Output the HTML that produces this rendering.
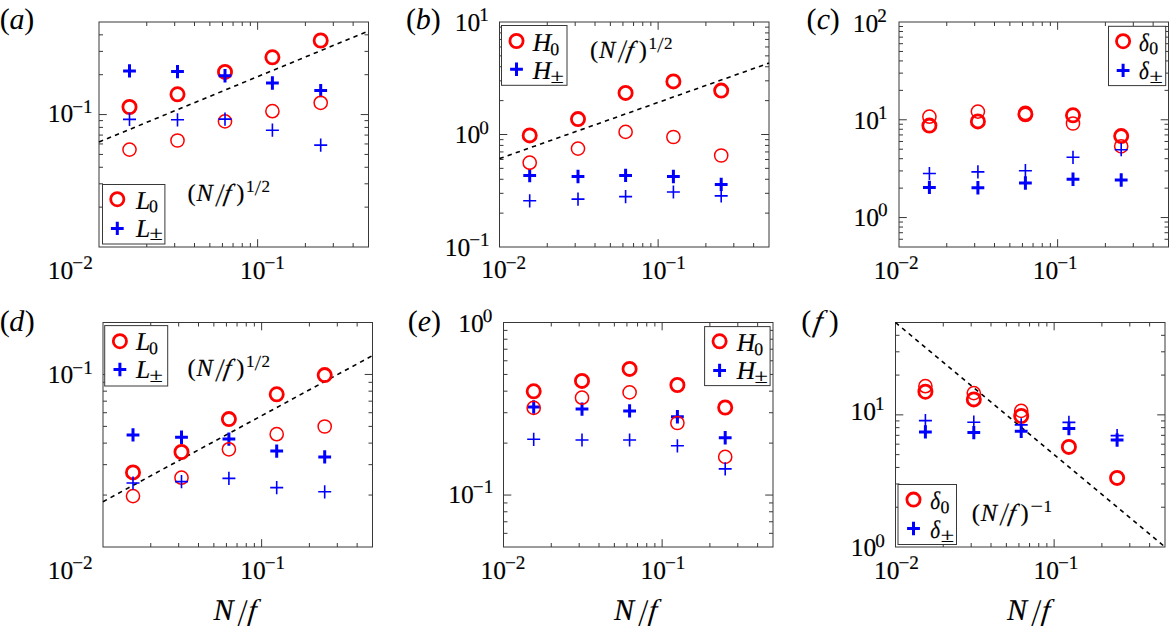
<!DOCTYPE html>
<html><head><meta charset="utf-8"><title>Figure</title>
<style>
html,body{margin:0;padding:0;background:#fff;}
svg{display:block;}
text{font-family:"Liberation Serif",serif;fill:#000;stroke:#000;stroke-width:0.18px;text-rendering:geometricPrecision;}
.nb{stroke-width:0;}
</style></head>
<body>
<svg width="1169" height="626" viewBox="0 0 1169 626">
<rect width="1169" height="626" fill="#fff"/>
<path d="M146.75 247V243M146.75 22V26M174.68 247V243M174.68 22V26M194.5 247V243M194.5 22V26M209.87 247V243M209.87 22V26M222.43 247V243M222.43 22V26M233.05 247V243M233.05 22V26M242.25 247V243M242.25 22V26M250.37 247V243M250.37 22V26M257.63 247V239.2M257.63 22V29.8M305.38 247V243M305.38 22V26M333.31 247V243M333.31 22V26M353.13 247V243M353.13 22V26M99 207.13H103M368.5 207.13H364.5M99 183.81H103M368.5 183.81H364.5M99 167.27H103M368.5 167.27H364.5M99 154.43H103M368.5 154.43H364.5M99 143.95H103M368.5 143.95H364.5M99 135.08H103M368.5 135.08H364.5M99 127.4H103M368.5 127.4H364.5M99 120.63H103M368.5 120.63H364.5M99 114.57H106.8M368.5 114.57H360.7M99 74.7H103M368.5 74.7H364.5M99 51.38H103M368.5 51.38H364.5M99 34.83H103M368.5 34.83H364.5" stroke="#383838" stroke-width="1" fill="none"/>
<rect x="99" y="22" width="269.5" height="225" stroke="#383838" stroke-width="1.0" fill="none"/>
<path d="M547.25 247V243M547.25 22V26M575.18 247V243M575.18 22V26M595 247V243M595 22V26M610.37 247V243M610.37 22V26M622.93 247V243M622.93 22V26M633.55 247V243M633.55 22V26M642.75 247V243M642.75 22V26M650.87 247V243M650.87 22V26M658.13 247V239.2M658.13 22V29.8M705.88 247V243M705.88 22V26M733.81 247V243M733.81 22V26M753.63 247V243M753.63 22V26M499.5 213.13H503.5M769 213.13H765M499.5 193.32H503.5M769 193.32H765M499.5 179.27H503.5M769 179.27H765M499.5 168.37H503.5M769 168.37H765M499.5 159.46H503.5M769 159.46H765M499.5 151.93H503.5M769 151.93H765M499.5 145.4H503.5M769 145.4H765M499.5 139.65H503.5M769 139.65H765M499.5 134.5H507.3M769 134.5H761.2M499.5 100.63H503.5M769 100.63H765M499.5 80.82H503.5M769 80.82H765M499.5 66.77H503.5M769 66.77H765M499.5 55.87H503.5M769 55.87H765M499.5 46.96H503.5M769 46.96H765M499.5 39.43H503.5M769 39.43H765M499.5 32.9H503.5M769 32.9H765M499.5 27.15H503.5M769 27.15H765" stroke="#383838" stroke-width="1" fill="none"/>
<rect x="499.5" y="22" width="269.5" height="225" stroke="#383838" stroke-width="1.0" fill="none"/>
<path d="M946.75 247V243M946.75 22V26M974.68 247V243M974.68 22V26M994.5 247V243M994.5 22V26M1009.87 247V243M1009.87 22V26M1022.43 247V243M1022.43 22V26M1033.05 247V243M1033.05 22V26M1042.25 247V243M1042.25 22V26M1050.37 247V243M1050.37 22V26M1057.63 247V239.2M1057.63 22V29.8M1105.38 247V243M1105.38 22V26M1133.31 247V243M1133.31 22V26M1153.13 247V243M1153.13 22V26M899 239.26H903M1168.5 239.26H1164.5M899 232.71H903M1168.5 232.71H1164.5M899 227.04H903M1168.5 227.04H1164.5M899 222.04H903M1168.5 222.04H1164.5M899 217.56H906.8M1168.5 217.56H1160.7M899 188.13H903M1168.5 188.13H1164.5M899 170.91H903M1168.5 170.91H1164.5M899 158.69H903M1168.5 158.69H1164.5M899 149.22H903M1168.5 149.22H1164.5M899 141.48H903M1168.5 141.48H1164.5M899 134.93H903M1168.5 134.93H1164.5M899 129.26H903M1168.5 129.26H1164.5M899 124.26H903M1168.5 124.26H1164.5M899 119.78H906.8M1168.5 119.78H1160.7M899 90.35H903M1168.5 90.35H1164.5M899 73.13H903M1168.5 73.13H1164.5M899 60.91H903M1168.5 60.91H1164.5M899 51.44H903M1168.5 51.44H1164.5M899 43.69H903M1168.5 43.69H1164.5M899 37.15H903M1168.5 37.15H1164.5M899 31.48H903M1168.5 31.48H1164.5M899 26.47H903M1168.5 26.47H1164.5" stroke="#383838" stroke-width="1" fill="none"/>
<rect x="899" y="22" width="269.5" height="225" stroke="#383838" stroke-width="1.0" fill="none"/>
<path d="M150.75 547V543M150.75 322.5V326.5M178.68 547V543M178.68 322.5V326.5M198.5 547V543M198.5 322.5V326.5M213.87 547V543M213.87 322.5V326.5M226.43 547V543M226.43 322.5V326.5M237.05 547V543M237.05 322.5V326.5M246.25 547V543M246.25 322.5V326.5M254.37 547V543M254.37 322.5V326.5M261.63 547V539.2M261.63 322.5V330.3M309.38 547V543M309.38 322.5V326.5M337.31 547V543M337.31 322.5V326.5M357.13 547V543M357.13 322.5V326.5M103 495.06H107M372.5 495.06H368.5M103 464.67H107M372.5 464.67H368.5M103 443.11H107M372.5 443.11H368.5M103 426.39H107M372.5 426.39H368.5M103 412.73H107M372.5 412.73H368.5M103 401.17H107M372.5 401.17H368.5M103 391.17H107M372.5 391.17H368.5M103 382.34H107M372.5 382.34H368.5M103 374.44H110.8M372.5 374.44H364.7" stroke="#383838" stroke-width="1" fill="none"/>
<rect x="103" y="322.5" width="269.5" height="224.5" stroke="#383838" stroke-width="1.0" fill="none"/>
<path d="M551.25 547V543M551.25 322.5V326.5M579.18 547V543M579.18 322.5V326.5M599 547V543M599 322.5V326.5M614.37 547V543M614.37 322.5V326.5M626.93 547V543M626.93 322.5V326.5M637.55 547V543M637.55 322.5V326.5M646.75 547V543M646.75 322.5V326.5M654.87 547V543M654.87 322.5V326.5M662.13 547V539.2M662.13 322.5V330.3M709.88 547V543M709.88 322.5V326.5M737.81 547V543M737.81 322.5V326.5M757.63 547V543M757.63 322.5V326.5M503.5 533.34H507.5M773 533.34H769M503.5 521.78H507.5M773 521.78H769M503.5 511.78H507.5M773 511.78H769M503.5 502.95H507.5M773 502.95H769M503.5 495.06H511.3M773 495.06H765.2M503.5 443.11H507.5M773 443.11H769M503.5 412.73H507.5M773 412.73H769M503.5 391.17H507.5M773 391.17H769M503.5 374.44H507.5M773 374.44H769M503.5 360.78H507.5M773 360.78H769M503.5 349.23H507.5M773 349.23H769M503.5 339.22H507.5M773 339.22H769M503.5 330.4H507.5M773 330.4H769" stroke="#383838" stroke-width="1" fill="none"/>
<rect x="503.5" y="322.5" width="269.5" height="224.5" stroke="#383838" stroke-width="1.0" fill="none"/>
<path d="M943.25 547V543M943.25 322.5V326.5M971.18 547V543M971.18 322.5V326.5M991 547V543M991 322.5V326.5M1006.37 547V543M1006.37 322.5V326.5M1018.93 547V543M1018.93 322.5V326.5M1029.55 547V543M1029.55 322.5V326.5M1038.75 547V543M1038.75 322.5V326.5M1046.87 547V543M1046.87 322.5V326.5M1054.13 547V539.2M1054.13 322.5V330.3M1101.88 547V543M1101.88 322.5V326.5M1129.81 547V543M1129.81 322.5V326.5M1149.63 547V543M1149.63 322.5V326.5M895.5 507.22H899.5M1165 507.22H1161M895.5 483.95H899.5M1165 483.95H1161M895.5 467.44H899.5M1165 467.44H1161M895.5 454.64H899.5M1165 454.64H1161M895.5 444.18H899.5M1165 444.18H1161M895.5 435.33H899.5M1165 435.33H1161M895.5 427.67H899.5M1165 427.67H1161M895.5 420.91H899.5M1165 420.91H1161M895.5 414.86H903.3M1165 414.86H1157.2M895.5 375.08H899.5M1165 375.08H1161M895.5 351.81H899.5M1165 351.81H1161M895.5 335.31H899.5M1165 335.31H1161" stroke="#383838" stroke-width="1" fill="none"/>
<rect x="895.5" y="322.5" width="269.5" height="224.5" stroke="#383838" stroke-width="1.0" fill="none"/>
<line x1="99" y1="142" x2="368.5" y2="31" stroke="#000" stroke-width="1.6" stroke-dasharray="4.4 4.2"/>
<line x1="499.5" y1="158.6" x2="769" y2="63.1" stroke="#000" stroke-width="1.6" stroke-dasharray="4.4 4.2"/>
<line x1="103" y1="501.7" x2="372.5" y2="355.6" stroke="#000" stroke-width="1.6" stroke-dasharray="4.4 4.2"/>
<line x1="895.5" y1="322.5" x2="1165" y2="547" stroke="#000" stroke-width="1.6" stroke-dasharray="4.4 4.2"/>
<circle cx="129.5" cy="107" r="6.6" stroke="#f00" stroke-width="2.8" fill="none"/>
<circle cx="177.5" cy="94.3" r="6.6" stroke="#f00" stroke-width="2.8" fill="none"/>
<circle cx="225" cy="71.9" r="6.6" stroke="#f00" stroke-width="2.8" fill="none"/>
<circle cx="272.4" cy="57.3" r="6.6" stroke="#f00" stroke-width="2.8" fill="none"/>
<circle cx="320.7" cy="40.5" r="6.6" stroke="#f00" stroke-width="2.8" fill="none"/>
<path d="M123.1 70.9H135.9M129.5 64.2V77.6" stroke="#00f" stroke-width="3" fill="none"/>
<path d="M171.1 71.6H183.9M177.5 64.9V78.3" stroke="#00f" stroke-width="3" fill="none"/>
<path d="M218.6 75.8H231.4M225 69.1V82.5" stroke="#00f" stroke-width="3" fill="none"/>
<path d="M266 83H278.8M272.4 76.3V89.7" stroke="#00f" stroke-width="3" fill="none"/>
<path d="M314.3 90.6H327.1M320.7 83.9V97.3" stroke="#00f" stroke-width="3" fill="none"/>
<circle cx="129.5" cy="149.6" r="6.6" stroke="#f00" stroke-width="1.5" fill="none"/>
<circle cx="177.5" cy="140.5" r="6.6" stroke="#f00" stroke-width="1.5" fill="none"/>
<circle cx="225" cy="121.4" r="6.6" stroke="#f00" stroke-width="1.5" fill="none"/>
<circle cx="272.4" cy="111.2" r="6.6" stroke="#f00" stroke-width="1.5" fill="none"/>
<circle cx="320.7" cy="102.8" r="6.6" stroke="#f00" stroke-width="1.5" fill="none"/>
<path d="M123 119.4H136M129.5 112.8V126" stroke="#00f" stroke-width="1.6" fill="none"/>
<path d="M171 119.8H184M177.5 113.2V126.4" stroke="#00f" stroke-width="1.6" fill="none"/>
<path d="M218.5 119.1H231.5M225 112.5V125.7" stroke="#00f" stroke-width="1.6" fill="none"/>
<path d="M265.9 130.2H278.9M272.4 123.6V136.8" stroke="#00f" stroke-width="1.6" fill="none"/>
<path d="M314.2 145.1H327.2M320.7 138.5V151.7" stroke="#00f" stroke-width="1.6" fill="none"/>
<circle cx="529.7" cy="135.4" r="6.6" stroke="#f00" stroke-width="2.8" fill="none"/>
<circle cx="578" cy="119.1" r="6.6" stroke="#f00" stroke-width="2.8" fill="none"/>
<circle cx="625.6" cy="92.9" r="6.6" stroke="#f00" stroke-width="2.8" fill="none"/>
<circle cx="673.4" cy="81.4" r="6.6" stroke="#f00" stroke-width="2.8" fill="none"/>
<circle cx="721.2" cy="90.6" r="6.6" stroke="#f00" stroke-width="2.8" fill="none"/>
<path d="M523.3 175.6H536.1M529.7 168.9V182.3" stroke="#00f" stroke-width="3" fill="none"/>
<path d="M571.6 176.5H584.4M578 169.8V183.2" stroke="#00f" stroke-width="3" fill="none"/>
<path d="M619.2 175.4H632M625.6 168.7V182.1" stroke="#00f" stroke-width="3" fill="none"/>
<path d="M667 176.5H679.8M673.4 169.8V183.2" stroke="#00f" stroke-width="3" fill="none"/>
<path d="M714.8 184.4H727.6M721.2 177.7V191.1" stroke="#00f" stroke-width="3" fill="none"/>
<circle cx="529.7" cy="162.7" r="6.6" stroke="#f00" stroke-width="1.5" fill="none"/>
<circle cx="578" cy="148.6" r="6.6" stroke="#f00" stroke-width="1.5" fill="none"/>
<circle cx="625.6" cy="131.9" r="6.6" stroke="#f00" stroke-width="1.5" fill="none"/>
<circle cx="673.4" cy="137" r="6.6" stroke="#f00" stroke-width="1.5" fill="none"/>
<circle cx="721.2" cy="155.5" r="6.6" stroke="#f00" stroke-width="1.5" fill="none"/>
<path d="M523.2 200.8H536.2M529.7 194.2V207.4" stroke="#00f" stroke-width="1.6" fill="none"/>
<path d="M571.5 199.1H584.5M578 192.5V205.7" stroke="#00f" stroke-width="1.6" fill="none"/>
<path d="M619.1 196.6H632.1M625.6 190V203.2" stroke="#00f" stroke-width="1.6" fill="none"/>
<path d="M666.9 192H679.9M673.4 185.4V198.6" stroke="#00f" stroke-width="1.6" fill="none"/>
<path d="M714.7 195.9H727.7M721.2 189.3V202.5" stroke="#00f" stroke-width="1.6" fill="none"/>
<circle cx="929.4" cy="125.6" r="6.6" stroke="#f00" stroke-width="2.8" fill="none"/>
<circle cx="977.9" cy="121.4" r="6.6" stroke="#f00" stroke-width="2.8" fill="none"/>
<circle cx="1025.4" cy="114.3" r="6.6" stroke="#f00" stroke-width="2.8" fill="none"/>
<circle cx="1073" cy="115.3" r="6.6" stroke="#f00" stroke-width="2.8" fill="none"/>
<circle cx="1121.2" cy="136.1" r="6.6" stroke="#f00" stroke-width="2.8" fill="none"/>
<path d="M923 187.4H935.8M929.4 180.7V194.1" stroke="#00f" stroke-width="3" fill="none"/>
<path d="M971.5 187.8H984.3M977.9 181.1V194.5" stroke="#00f" stroke-width="3" fill="none"/>
<path d="M1019 183H1031.8M1025.4 176.3V189.7" stroke="#00f" stroke-width="3" fill="none"/>
<path d="M1066.6 179.3H1079.4M1073 172.6V186" stroke="#00f" stroke-width="3" fill="none"/>
<path d="M1114.8 180H1127.6M1121.2 173.3V186.7" stroke="#00f" stroke-width="3" fill="none"/>
<circle cx="929.4" cy="116.7" r="6.6" stroke="#f00" stroke-width="1.5" fill="none"/>
<circle cx="977.9" cy="111.6" r="6.6" stroke="#f00" stroke-width="1.5" fill="none"/>
<circle cx="1025.4" cy="112.8" r="6.6" stroke="#f00" stroke-width="1.5" fill="none"/>
<circle cx="1073" cy="123.5" r="6.6" stroke="#f00" stroke-width="1.5" fill="none"/>
<circle cx="1121.2" cy="146.3" r="6.6" stroke="#f00" stroke-width="1.5" fill="none"/>
<path d="M922.9 173.5H935.9M929.4 166.9V180.1" stroke="#00f" stroke-width="1.6" fill="none"/>
<path d="M971.4 171.9H984.4M977.9 165.3V178.5" stroke="#00f" stroke-width="1.6" fill="none"/>
<path d="M1018.9 170.7H1031.9M1025.4 164.1V177.3" stroke="#00f" stroke-width="1.6" fill="none"/>
<path d="M1066.5 157.3H1079.5M1073 150.7V163.9" stroke="#00f" stroke-width="1.6" fill="none"/>
<path d="M1114.7 149.7H1127.7M1121.2 143.1V156.3" stroke="#00f" stroke-width="1.6" fill="none"/>
<circle cx="133" cy="472.4" r="6.6" stroke="#f00" stroke-width="2.8" fill="none"/>
<circle cx="181.5" cy="452" r="6.6" stroke="#f00" stroke-width="2.8" fill="none"/>
<circle cx="228.9" cy="419.1" r="6.6" stroke="#f00" stroke-width="2.8" fill="none"/>
<circle cx="276.7" cy="394.3" r="6.6" stroke="#f00" stroke-width="2.8" fill="none"/>
<circle cx="324.7" cy="375.1" r="6.6" stroke="#f00" stroke-width="2.8" fill="none"/>
<path d="M126.6 434.9H139.4M133 428.2V441.6" stroke="#00f" stroke-width="3" fill="none"/>
<path d="M175.1 437.3H187.9M181.5 430.6V444" stroke="#00f" stroke-width="3" fill="none"/>
<path d="M222.5 439.1H235.3M228.9 432.4V445.8" stroke="#00f" stroke-width="3" fill="none"/>
<path d="M270.3 451.1H283.1M276.7 444.4V457.8" stroke="#00f" stroke-width="3" fill="none"/>
<path d="M318.3 456.9H331.1M324.7 450.2V463.6" stroke="#00f" stroke-width="3" fill="none"/>
<circle cx="133" cy="496.1" r="6.6" stroke="#f00" stroke-width="1.5" fill="none"/>
<circle cx="181.5" cy="477.7" r="6.6" stroke="#f00" stroke-width="1.5" fill="none"/>
<circle cx="228.9" cy="449.3" r="6.6" stroke="#f00" stroke-width="1.5" fill="none"/>
<circle cx="276.7" cy="434.2" r="6.6" stroke="#f00" stroke-width="1.5" fill="none"/>
<circle cx="324.7" cy="426.5" r="6.6" stroke="#f00" stroke-width="1.5" fill="none"/>
<path d="M126.5 483H139.5M133 476.4V489.6" stroke="#00f" stroke-width="1.6" fill="none"/>
<path d="M175 481.6H188M181.5 475V488.2" stroke="#00f" stroke-width="1.6" fill="none"/>
<path d="M222.4 478.4H235.4M228.9 471.8V485" stroke="#00f" stroke-width="1.6" fill="none"/>
<path d="M270.2 487.6H283.2M276.7 481V494.2" stroke="#00f" stroke-width="1.6" fill="none"/>
<path d="M318.2 491.8H331.2M324.7 485.2V498.4" stroke="#00f" stroke-width="1.6" fill="none"/>
<circle cx="533.7" cy="391.3" r="6.6" stroke="#f00" stroke-width="2.8" fill="none"/>
<circle cx="582" cy="380.9" r="6.6" stroke="#f00" stroke-width="2.8" fill="none"/>
<circle cx="629.6" cy="368.9" r="6.6" stroke="#f00" stroke-width="2.8" fill="none"/>
<circle cx="677.4" cy="385" r="6.6" stroke="#f00" stroke-width="2.8" fill="none"/>
<circle cx="725.2" cy="407.5" r="6.6" stroke="#f00" stroke-width="2.8" fill="none"/>
<path d="M527.3 407H540.1M533.7 400.3V413.7" stroke="#00f" stroke-width="3" fill="none"/>
<path d="M575.6 409.1H588.4M582 402.4V415.8" stroke="#00f" stroke-width="3" fill="none"/>
<path d="M623.2 410.9H636M629.6 404.2V417.6" stroke="#00f" stroke-width="3" fill="none"/>
<path d="M671 416.7H683.8M677.4 410V423.4" stroke="#00f" stroke-width="3" fill="none"/>
<path d="M718.8 437.7H731.6M725.2 431V444.4" stroke="#00f" stroke-width="3" fill="none"/>
<circle cx="533.7" cy="407.9" r="6.6" stroke="#f00" stroke-width="1.5" fill="none"/>
<circle cx="582" cy="397.7" r="6.6" stroke="#f00" stroke-width="1.5" fill="none"/>
<circle cx="629.6" cy="392.4" r="6.6" stroke="#f00" stroke-width="1.5" fill="none"/>
<circle cx="677.4" cy="423" r="6.6" stroke="#f00" stroke-width="1.5" fill="none"/>
<circle cx="725.2" cy="456.9" r="6.6" stroke="#f00" stroke-width="1.5" fill="none"/>
<path d="M527.2 439.3H540.2M533.7 432.7V445.9" stroke="#00f" stroke-width="1.6" fill="none"/>
<path d="M575.5 440H588.5M582 433.4V446.6" stroke="#00f" stroke-width="1.6" fill="none"/>
<path d="M623.1 440H636.1M629.6 433.4V446.6" stroke="#00f" stroke-width="1.6" fill="none"/>
<path d="M670.9 445.8H683.9M677.4 439.2V452.4" stroke="#00f" stroke-width="1.6" fill="none"/>
<path d="M718.7 468.9H731.7M725.2 462.3V475.5" stroke="#00f" stroke-width="1.6" fill="none"/>
<circle cx="925.4" cy="391.7" r="6.6" stroke="#f00" stroke-width="2.8" fill="none"/>
<circle cx="973.8" cy="399.4" r="6.6" stroke="#f00" stroke-width="2.8" fill="none"/>
<circle cx="1021.2" cy="416" r="6.6" stroke="#f00" stroke-width="2.8" fill="none"/>
<circle cx="1068.9" cy="446.9" r="6.6" stroke="#f00" stroke-width="2.8" fill="none"/>
<circle cx="1117.1" cy="477.9" r="6.6" stroke="#f00" stroke-width="2.8" fill="none"/>
<path d="M919 431.9H931.8M925.4 425.2V438.6" stroke="#00f" stroke-width="3" fill="none"/>
<path d="M967.4 432.6H980.2M973.8 425.9V439.3" stroke="#00f" stroke-width="3" fill="none"/>
<path d="M1014.8 431.2H1027.6M1021.2 424.5V437.9" stroke="#00f" stroke-width="3" fill="none"/>
<path d="M1062.5 428.5H1075.3M1068.9 421.8V435.2" stroke="#00f" stroke-width="3" fill="none"/>
<path d="M1110.7 440H1123.5M1117.1 433.3V446.7" stroke="#00f" stroke-width="3" fill="none"/>
<circle cx="925.4" cy="386.2" r="6.6" stroke="#f00" stroke-width="1.5" fill="none"/>
<circle cx="973.8" cy="393.1" r="6.6" stroke="#f00" stroke-width="1.5" fill="none"/>
<circle cx="1021.2" cy="410.9" r="6.6" stroke="#f00" stroke-width="1.5" fill="none"/>
<path d="M918.9 420.6H931.9M925.4 414V427.2" stroke="#00f" stroke-width="1.6" fill="none"/>
<path d="M967.3 422.2H980.3M973.8 415.6V428.8" stroke="#00f" stroke-width="1.6" fill="none"/>
<path d="M1014.7 424.9H1027.7M1021.2 418.3V431.5" stroke="#00f" stroke-width="1.6" fill="none"/>
<path d="M1062.4 422.4H1075.4M1068.9 415.8V429" stroke="#00f" stroke-width="1.6" fill="none"/>
<path d="M1110.6 435.6H1123.6M1117.1 429V442.2" stroke="#00f" stroke-width="1.6" fill="none"/>
<rect x="102.5" y="184.5" width="62.4" height="59.5" stroke="#383838" stroke-width="1" fill="#fff"/>
<circle cx="117.3" cy="199.2" r="6.6" stroke="#f00" stroke-width="2.8" fill="none"/>
<path d="M110.9 228.4H123.7M117.3 221.7V235.1" stroke="#00f" stroke-width="3" fill="none"/>
<text x="135.9" y="208.5" font-style="italic" font-size="25.5">L</text>
<text x="149.12" y="212.2" font-size="17.8">0</text>
<text x="135.9" y="236.5" font-style="italic" font-size="25.5">L</text>
<text transform="translate(150.4 240.3) scale(1.19 1)" x="-0.85" y="0" font-size="20.4">±</text>
<rect x="501.5" y="25.5" width="65.5" height="59.8" stroke="#383838" stroke-width="1" fill="#fff"/>
<circle cx="516.5" cy="41" r="6.6" stroke="#f00" stroke-width="2.8" fill="none"/>
<path d="M510.1 69.2H522.9M516.5 62.5V75.9" stroke="#00f" stroke-width="3" fill="none"/>
<text x="532.77" y="50.8" font-style="italic" font-size="25.5">H</text>
<text x="550.32" y="54.5" font-size="17.8">0</text>
<text x="532.77" y="78.7" font-style="italic" font-size="25.5">H</text>
<text transform="translate(551.6 82.5) scale(1.19 1)" x="-0.85" y="0" font-size="20.4">±</text>
<rect x="1108.5" y="26.3" width="57.2" height="59.3" stroke="#383838" stroke-width="1" fill="#fff"/>
<circle cx="1123.1" cy="41.2" r="6.6" stroke="#f00" stroke-width="2.8" fill="none"/>
<path d="M1116.7 70.4H1129.5M1123.1 63.7V77.1" stroke="#00f" stroke-width="3" fill="none"/>
<text transform="translate(1139.7 50.5) scale(0.83 1)" x="-0.75" y="0" font-style="italic" font-size="25.5">δ</text>
<text x="1149.32" y="54.2" font-size="17.8">0</text>
<text transform="translate(1139.7 78.7) scale(0.83 1)" x="-0.75" y="0" font-style="italic" font-size="25.5">δ</text>
<text transform="translate(1150.6 82.5) scale(1.19 1)" x="-0.85" y="0" font-size="20.4">±</text>
<rect x="104.7" y="325.6" width="63" height="60.4" stroke="#383838" stroke-width="1" fill="#fff"/>
<circle cx="119.9" cy="341.2" r="6.6" stroke="#f00" stroke-width="2.8" fill="none"/>
<path d="M113.5 369.5H126.3M119.9 362.8V376.2" stroke="#00f" stroke-width="3" fill="none"/>
<text x="135.9" y="350" font-style="italic" font-size="25.5">L</text>
<text x="149.12" y="353.7" font-size="17.8">0</text>
<text x="135.9" y="378.1" font-style="italic" font-size="25.5">L</text>
<text transform="translate(150.4 381.9) scale(1.19 1)" x="-0.85" y="0" font-size="20.4">±</text>
<rect x="704.6" y="326.6" width="65.5" height="59" stroke="#383838" stroke-width="1" fill="#fff"/>
<circle cx="719.6" cy="341.3" r="6.6" stroke="#f00" stroke-width="2.8" fill="none"/>
<path d="M713.2 370.4H726M719.6 363.7V377.1" stroke="#00f" stroke-width="3" fill="none"/>
<text x="736.67" y="350.8" font-style="italic" font-size="25.5">H</text>
<text x="754.22" y="354.5" font-size="17.8">0</text>
<text x="736.67" y="378.7" font-style="italic" font-size="25.5">H</text>
<text transform="translate(755.5 382.5) scale(1.19 1)" x="-0.85" y="0" font-size="20.4">±</text>
<rect x="898" y="484.5" width="58.5" height="60" stroke="#383838" stroke-width="1" fill="#fff"/>
<circle cx="913.5" cy="499.6" r="6.6" stroke="#f00" stroke-width="2.8" fill="none"/>
<path d="M907.1 528.5H919.9M913.5 521.8V535.2" stroke="#00f" stroke-width="3" fill="none"/>
<text transform="translate(930.8 509.3) scale(0.83 1)" x="-0.75" y="0" font-style="italic" font-size="25.5">δ</text>
<text x="940.42" y="513" font-size="17.8">0</text>
<text transform="translate(930.8 538.4) scale(0.83 1)" x="-0.75" y="0" font-style="italic" font-size="25.5">δ</text>
<text transform="translate(941.7 542.2) scale(1.19 1)" x="-0.85" y="0" font-size="20.4">±</text>
<text x="47.66" y="122.3" font-size="25.5">10</text>
<text x="72.16" y="112.8" font-size="19.2">−1</text>
<text x="47.86" y="278.7" font-size="25.5">10</text>
<text x="72.36" y="269.2" font-size="19.2">−2</text>
<text x="240.06" y="278.7" font-size="25.5">10</text>
<text x="264.56" y="269.2" font-size="19.2">−1</text>
<text x="454.76" y="30.7" font-size="25.5">10</text>
<text x="479.26" y="21.2" font-size="19.2">1</text>
<text x="454.66" y="143.2" font-size="25.5">10</text>
<text x="479.16" y="133.7" font-size="19.2">0</text>
<text x="444.66" y="255.8" font-size="25.5">10</text>
<text x="469.16" y="246.3" font-size="19.2">−1</text>
<text x="481.16" y="278.4" font-size="25.5">10</text>
<text x="505.66" y="268.9" font-size="19.2">−2</text>
<text x="640.96" y="278.7" font-size="25.5">10</text>
<text x="665.46" y="269.2" font-size="19.2">−1</text>
<text x="852.86" y="31.6" font-size="25.5">10</text>
<text x="877.36" y="22.1" font-size="19.2">2</text>
<text x="853.46" y="128.5" font-size="25.5">10</text>
<text x="877.96" y="119" font-size="19.2">1</text>
<text x="853.46" y="225.7" font-size="25.5">10</text>
<text x="877.96" y="216.2" font-size="19.2">0</text>
<text x="873.76" y="278.6" font-size="25.5">10</text>
<text x="898.26" y="269.1" font-size="19.2">−2</text>
<text x="1032.66" y="278.6" font-size="25.5">10</text>
<text x="1057.16" y="269.1" font-size="19.2">−1</text>
<text x="47.86" y="383.2" font-size="25.5">10</text>
<text x="72.36" y="373.7" font-size="19.2">−1</text>
<text x="47.76" y="578.9" font-size="25.5">10</text>
<text x="72.26" y="569.4" font-size="19.2">−2</text>
<text x="240.16" y="578.9" font-size="25.5">10</text>
<text x="264.66" y="569.4" font-size="19.2">−1</text>
<text x="458.26" y="331.8" font-size="25.5">10</text>
<text x="482.76" y="322.3" font-size="19.2">0</text>
<text x="448.36" y="502.9" font-size="25.5">10</text>
<text x="472.86" y="493.4" font-size="19.2">−1</text>
<text x="480.46" y="578.9" font-size="25.5">10</text>
<text x="504.96" y="569.4" font-size="19.2">−2</text>
<text x="640.56" y="578.9" font-size="25.5">10</text>
<text x="665.06" y="569.4" font-size="19.2">−1</text>
<text x="850.46" y="419.8" font-size="25.5">10</text>
<text x="874.96" y="410.3" font-size="19.2">1</text>
<text x="850.66" y="556.3" font-size="25.5">10</text>
<text x="875.16" y="546.8" font-size="19.2">0</text>
<text x="874.06" y="578.9" font-size="25.5">10</text>
<text x="898.56" y="569.4" font-size="19.2">−2</text>
<text x="1033.46" y="578.9" font-size="25.5">10</text>
<text x="1057.96" y="569.4" font-size="19.2">−1</text>
<text x="-0.32" y="28.9" class="nb" font-size="30">(</text>
<text x="9.41" y="28.9" font-style="italic" class="nb" font-size="30">a</text>
<text x="24.23" y="28.9" class="nb" font-size="30">)</text>
<text x="405.88" y="28.9" class="nb" font-size="30">(</text>
<text x="415.79" y="28.9" font-style="italic" class="nb" font-size="30">b</text>
<text x="430.83" y="28.9" class="nb" font-size="30">)</text>
<text x="806.43" y="28.9" class="nb" font-size="30">(</text>
<text x="816.68" y="28.9" font-style="italic" class="nb" font-size="30">c</text>
<text x="829.73" y="28.9" class="nb" font-size="30">)</text>
<text x="-0.32" y="330.6" class="nb" font-size="30">(</text>
<text x="9.19" y="330.6" font-style="italic" class="nb" font-size="30">d</text>
<text x="24.73" y="330.6" class="nb" font-size="30">)</text>
<text x="407.68" y="330.6" class="nb" font-size="30">(</text>
<text x="417.68" y="330.6" font-style="italic" class="nb" font-size="30">e</text>
<text x="430.93" y="330.6" class="nb" font-size="30">)</text>
<text x="801.28" y="330.6" class="nb" font-size="30">(</text>
<text transform="translate(812.44 330.6) skewX(-10)" font-style="italic" class="nb" font-size="30">f</text>
<text x="828.63" y="330.6" class="nb" font-size="30">)</text>
<text x="187.52" y="200.8" font-size="24.5">(</text>
<text x="196.48" y="200.8" font-style="italic" font-size="24.5">N</text>
<text transform="translate(215.27 205.5) scale(1 1.33) skewX(-9.5)" font-size="24.5">/</text>
<text transform="translate(223.09 200.8) skewX(-10)" font-style="italic" font-size="24.5">f</text>
<text x="236.21" y="200.8" font-size="24.5">)</text>
<text x="246.01" y="192.1" font-size="17">1</text>
<text transform="translate(254.74 194.8) scale(1 1.26) skewX(-7.7)" font-size="17">/</text>
<text x="261.45" y="192.1" font-size="17">2</text>
<text x="590.02" y="57.5" font-size="24.5">(</text>
<text x="598.98" y="57.5" font-style="italic" font-size="24.5">N</text>
<text transform="translate(617.77 62.2) scale(1 1.33) skewX(-9.5)" font-size="24.5">/</text>
<text transform="translate(625.59 57.5) skewX(-10)" font-style="italic" font-size="24.5">f</text>
<text x="638.71" y="57.5" font-size="24.5">)</text>
<text x="648.51" y="48.8" font-size="17">1</text>
<text transform="translate(657.24 51.5) scale(1 1.26) skewX(-7.7)" font-size="17">/</text>
<text x="663.95" y="48.8" font-size="17">2</text>
<text x="187.52" y="375.8" font-size="24.5">(</text>
<text x="196.48" y="375.8" font-style="italic" font-size="24.5">N</text>
<text transform="translate(215.27 380.5) scale(1 1.33) skewX(-9.5)" font-size="24.5">/</text>
<text transform="translate(223.09 375.8) skewX(-10)" font-style="italic" font-size="24.5">f</text>
<text x="236.21" y="375.8" font-size="24.5">)</text>
<text x="246.01" y="367.1" font-size="17">1</text>
<text transform="translate(254.74 369.8) scale(1 1.26) skewX(-7.7)" font-size="17">/</text>
<text x="261.45" y="367.1" font-size="17">2</text>
<text x="971.82" y="520.7" font-size="24.5">(</text>
<text x="980.78" y="520.7" font-style="italic" font-size="24.5">N</text>
<text transform="translate(999.57 525.4) scale(1 1.33) skewX(-9.5)" font-size="24.5">/</text>
<text transform="translate(1007.39 520.7) skewX(-10)" font-style="italic" font-size="24.5">f</text>
<text x="1020.51" y="520.7" font-size="24.5">)</text>
<text transform="translate(1031.7 512) scale(1.3 1)" x="-0.85" y="0" font-size="17">−</text>
<text x="1043.51" y="512" font-size="17">1</text>
<text x="213.52" y="619.8" font-style="italic" font-size="30">N</text>
<text transform="translate(237.12 626.7) scale(1 1.35) skewX(-6.5)" class="nb" font-size="30">/</text>
<text transform="translate(247.16 619.8) skewX(-6)" font-style="italic" class="nb" font-size="30">f</text>
<text x="614.12" y="619.8" font-style="italic" font-size="30">N</text>
<text transform="translate(637.72 626.7) scale(1 1.35) skewX(-6.5)" class="nb" font-size="30">/</text>
<text transform="translate(647.76 619.8) skewX(-6)" font-style="italic" class="nb" font-size="30">f</text>
<text x="1007.12" y="619.8" font-style="italic" font-size="30">N</text>
<text transform="translate(1030.72 626.7) scale(1 1.35) skewX(-6.5)" class="nb" font-size="30">/</text>
<text transform="translate(1040.76 619.8) skewX(-6)" font-style="italic" class="nb" font-size="30">f</text>
</svg>
</body></html>
